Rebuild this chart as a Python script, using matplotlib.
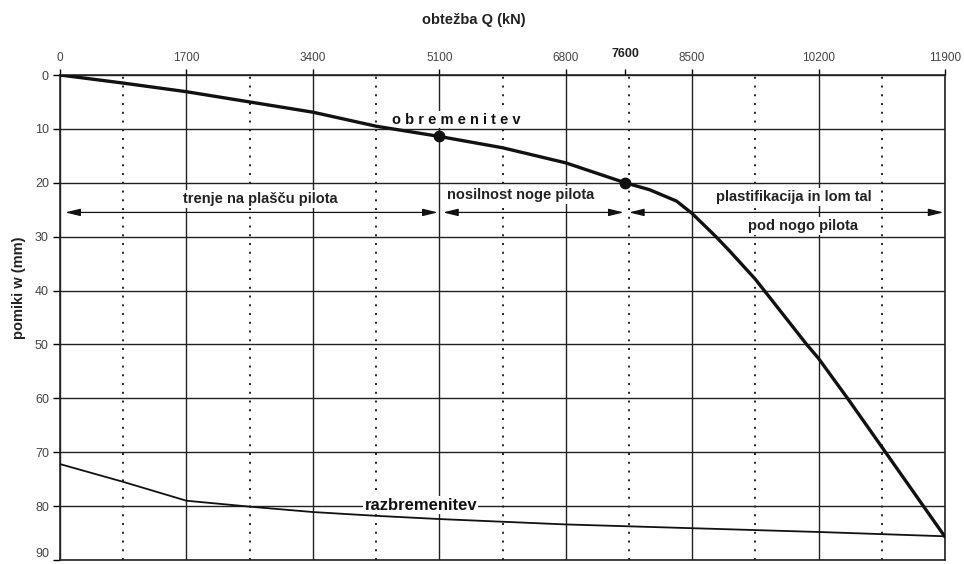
import numpy as np
import matplotlib
matplotlib.use("Agg")
import matplotlib.pyplot as plt

plt.rcParams['font.family'] = ['Liberation Sans', 'DejaVu Sans']

# ---- data ----
load_q = [0, 850, 1700, 2550, 3400, 4250, 5100, 5950, 6800, 7600, 7930, 8290,
          8500, 8820, 9000, 9350, 9470, 10040, 10200, 10590, 11100, 11900]
load_w = [0, 1.5, 3.1, 5.0, 6.9, 9.5, 11.4, 13.5, 16.3, 20.0, 21.3, 23.4,
          25.7, 30.0, 32.6, 37.9, 40.0, 50.0, 52.6, 60.0, 70.0, 85.7]
unload_q = [0, 850, 1700, 2550, 3400, 4250, 5100, 6800, 8500, 10200, 11900]
unload_w = [72.2, 75.5, 79.0, 80.1, 81.1, 81.8, 82.4, 83.4, 84.1, 84.8, 85.6]
marker_q = [5100, 7600]
marker_w = [11.4, 20.0]
xtick_vals = [0, 1700, 3400, 5100, 6800, 7600, 8500, 10200, 11900]
ytick_vals = [0, 10, 20, 30, 40, 50, 60, 70, 80, 90]
zone_bounds = [70, 5100, 7600, 11900]
zone_labels = ["trenje na plašču pilota", "nosilnost noge pilota",
               "plastifikacija in lom tal"]
zone2_label = "pod nogo pilota"
label_load = "o b r e m e n i t e v"
label_unload = "razbremenitev"
title_x = "obtežba Q (kN)"
title_y = "pomiki w (mm)"

fig = plt.figure(figsize=(9.64, 5.64), dpi=100)
ax = fig.add_axes([60/964, 1-560/564, 885/964, (560-75)/564])
ax.set_xlim(0, 11900)
ax.set_ylim(90, 0)

# grid
for x in np.arange(0, 11901, 1700):
    ax.axvline(x, color='#222222', lw=1.0, zorder=1)
for x in np.arange(850, 11900, 1700):
    ax.axvline(x, color='#222222', lw=1.4, ls=(0, (1, 3.5)), zorder=1)
for y in ytick_vals:
    ax.axhline(y, color='#222222', lw=1.0, zorder=1)

# curves
ax.plot(load_q, load_w, color='#111111', lw=2.4, zorder=4,
        solid_capstyle='round', solid_joinstyle='round')
ax.plot(unload_q, unload_w, color='#111111', lw=1.3, zorder=4)
ax.plot(marker_q, marker_w, 'o', color='#111111', ms=7.5, zorder=5)

# ticks
ax.xaxis.tick_top()
ax.set_xticks(xtick_vals)
ax.set_xticklabels([str(v) for v in xtick_vals])
ax.set_yticks(ytick_vals)
ax.set_yticklabels([str(v) for v in ytick_vals])
ax.tick_params(axis='x', direction='out', length=4, width=1, pad=4,
               labelsize=8.5, labelcolor='#444444', top=True, bottom=False)
ax.tick_params(axis='y', direction='out', length=5, width=1, pad=3,
               labelsize=9, labelcolor='#444444')
for lab, v in zip(ax.get_xticklabels(), xtick_vals):
    if v == 7600:
        lab.set_fontweight('bold')
        lab.set_color('#222222')
        lab.set_fontsize(9)
for t, v in zip(ax.xaxis.get_major_ticks(), xtick_vals):
    if v == 7600:
        t.set_pad(6.5)
for lab, v in zip(ax.get_yticklabels(), ytick_vals):
    if v == 90:
        lab.set_verticalalignment('bottom')
for s in ax.spines.values():
    s.set_linewidth(1.2)
    s.set_color('#222222')

# zone arrows
arrow_w = 25.5
aprops = dict(arrowstyle='<|-|>,head_length=0.9,head_width=0.22', color='#111111',
              lw=0.9, shrinkA=0, shrinkB=0)
for a, b in zip(zone_bounds[:-1], zone_bounds[1:]):
    ax.annotate('', xy=(a + (50 if a > 100 else 0), arrow_w), xytext=(b - 20, arrow_w),
                arrowprops=aprops, zorder=3)

bb = dict(facecolor='white', edgecolor='none', pad=1.5)
zfs = 10.5
ax.text(2690, 23.0, zone_labels[0], ha='center', va='center', fontsize=zfs,
        fontweight='bold', color='#222222', bbox=bb, zorder=3)
ax.text(6200, 22.3, zone_labels[1], ha='center', va='center', fontsize=zfs,
        fontweight='bold', color='#222222', bbox=bb, zorder=3)
ax.text(9870, 22.6, zone_labels[2], ha='center', va='center', fontsize=zfs,
        fontweight='bold', color='#222222', bbox=bb, zorder=3)
ax.text(9990, 28.0, zone2_label, ha='center', va='center', fontsize=zfs,
        fontweight='bold', color='#222222', bbox=bb, zorder=3)

# curve labels
ax.text(4460, 9.6, label_load, ha='left', va='bottom', fontsize=10.5,
        fontweight='bold', color='#111111',
        bbox=dict(facecolor='white', edgecolor='none', pad=1.0), zorder=3)
ax.text(4850, 79.8, label_unload, ha='center', va='center', fontsize=12,
        fontweight='bold', color='#111111',
        bbox=dict(facecolor='white', edgecolor='none', pad=1.0), zorder=3)

fig.text(474/964, 1-20/564, title_x, ha='center', va='center', fontsize=10.5,
         fontweight='bold', color='#222222')
fig.text(19/964, 1-288/564, title_y, ha='center', va='center', fontsize=10.5,
         fontweight='bold', color='#222222', rotation=90)

fig.savefig('out.png', dpi=100, facecolor='white')
